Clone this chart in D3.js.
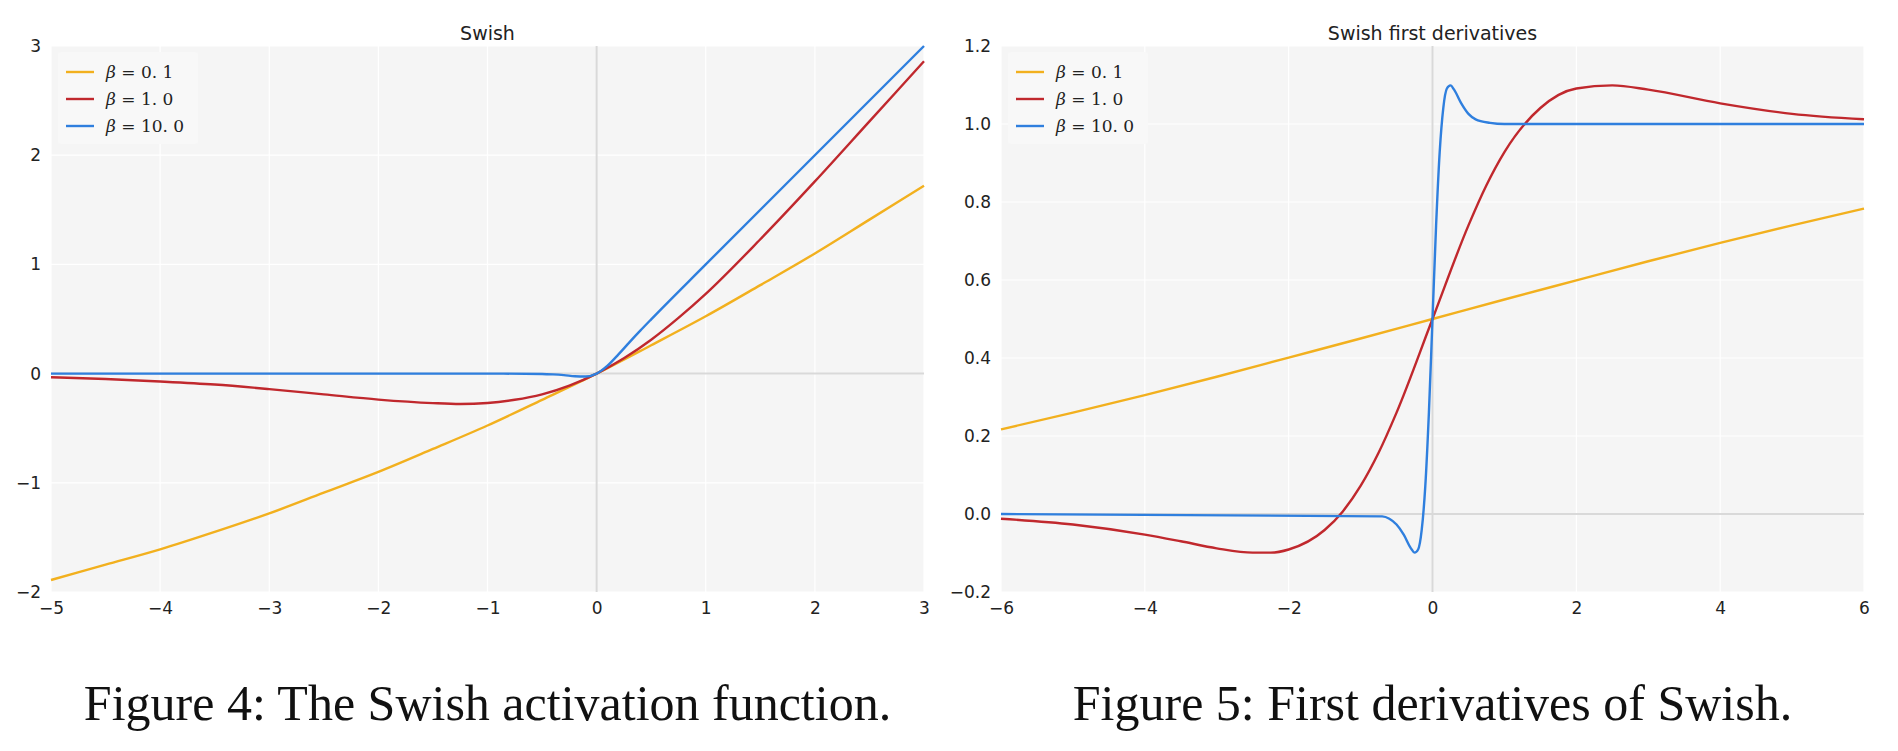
<!DOCTYPE html>
<html><head><meta charset="utf-8">
<script src="https://cdn.jsdelivr.net/npm/d3@7"></script>
<style>
  body { margin: 0; background: #fff; }
  svg { display: block; }
  .tick text { font-family: "DejaVu Sans", sans-serif; font-size: 17px; fill: #222; }
</style></head>
<body>
<svg id="chart" width="1898" height="751"></svg>
<script>
// Swish values
const swishX01 = [-5, -4.5, -4, -3.5, -3, -2.5, -2, -1.5, -1, -0.5, 0, 0.5, 1, 1.5, 2, 2.5, 3];
const swishY01 = [-1.89, -1.75, -1.61, -1.45, -1.28, -1.09, -0.90, -0.69, -0.475, -0.24, 0, 0.26, 0.525, 0.81, 1.10, 1.41, 1.72];
const swishX1 = [-5, -4.5, -4, -3.5, -3, -2.5, -2, -1.5, -1.25, -1, -0.75, -0.5, -0.25, 0, 0.25, 0.5, 0.75, 1, 1.5, 2, 2.5, 3];
const swishY1 = [-0.033, -0.05, -0.072, -0.10, -0.142, -0.19, -0.238, -0.27, -0.278, -0.269, -0.24, -0.19, -0.11, 0, 0.14, 0.31, 0.51, 0.73, 1.23, 1.76, 2.31, 2.86];
const swishX10 = [-5, -1, -0.5, -0.4, -0.3, -0.2, -0.1, 0, 0.1, 0.2, 0.3, 0.4, 0.5, 1, 3];
const swishY10 = [0, 0, -0.003, -0.007, -0.014, -0.024, -0.027, 0, 0.073, 0.176, 0.286, 0.393, 0.497, 1, 3];

// first derivatives, right panel
const derivX01 = [-6, -5, -4, -3, -2, -1, 0, 1, 2, 3, 4, 5, 6];
const derivY01 = [0.217, 0.260, 0.305, 0.352, 0.401, 0.450, 0.5, 0.550, 0.599, 0.648, 0.695, 0.740, 0.783];
const derivX1 = [-6, -5, -4, -3.5, -3, -2.5, -2.25, -2, -1.5, -1.25, -1, -0.75, -0.5, 0, 0.5, 0.75, 1, 1.5, 2, 2.5, 3, 4, 5, 6];
const derivY1 = [-0.012, -0.027, -0.053, -0.070, -0.088, -0.099, -0.099, -0.091, -0.041, 0.006, 0.072, 0.157, 0.26, 0.5, 0.74, 0.843, 0.928, 1.041, 1.091, 1.099, 1.088, 1.053, 1.026, 1.012];
const derivX10 = [-6, -0.7, -0.6, -0.5, -0.4, -0.3, -0.25, -0.2, -0.15, -0.1, -0.05, 0, 0.05, 0.1, 0.15, 0.2, 0.25, 0.3, 0.4, 0.5, 0.6, 0.8, 1, 6];
const derivY10 = [0, -0.006, -0.012, -0.027, -0.053, -0.088, -0.099, -0.091, -0.041, 0.072, 0.26, 0.5, 0.74, 0.928, 1.041, 1.091, 1.099, 1.088, 1.053, 1.026, 1.012, 1.003, 1.0, 1.0];

const betaLabels = ['0.1', '1.0', '10.0'];
const colors = ['#f2b01e', '#c0282d', '#2f7fde'];

const svg = d3.select('#chart');
const zip = (xs, ys) => xs.map((x, i) => ({ x, y: ys[i] }));

function panel(opt) {
  const x = d3.scaleLinear().domain(opt.xDomain).range([opt.left, opt.right]);
  const y = d3.scaleLinear().domain(opt.yDomain).range([592, 46]);
  const g = svg.append('g');
  g.append('rect').attr('x', opt.left).attr('y', 46)
    .attr('width', opt.right - opt.left).attr('height', 546).attr('fill', '#f5f5f5');
  // grid
  g.selectAll('line.gx').data(x.ticks(opt.xTicks)).enter().append('line')
    .attr('x1', (d) => x(d)).attr('x2', (d) => x(d)).attr('y1', 46).attr('y2', 592)
    .attr('stroke', '#fff').attr('stroke-width', 1.2);
  g.selectAll('line.gy').data(opt.yTickVals).enter().append('line')
    .attr('x1', opt.left).attr('x2', opt.right).attr('y1', (d) => y(d)).attr('y2', (d) => y(d))
    .attr('stroke', '#fff').attr('stroke-width', 1.2);
  // zero lines
  g.append('line').attr('x1', x(0)).attr('x2', x(0)).attr('y1', 46).attr('y2', 592)
    .attr('stroke', '#d9d9d9').attr('stroke-width', 2);
  g.append('line').attr('x1', opt.left).attr('x2', opt.right).attr('y1', y(0)).attr('y2', y(0))
    .attr('stroke', '#d9d9d9').attr('stroke-width', 2);
  // axes
  const fmtMinus = (f) => (d) => f(d).replace('-', '\u2212');
  const ax = g.append('g').attr('transform', 'translate(0,592)')
    .call(d3.axisBottom(x).ticks(opt.xTicks).tickSize(0).tickPadding(10).tickFormat(fmtMinus(d3.format('d'))));
  ax.select('.domain').remove();
  const ay = g.append('g').attr('transform', `translate(${opt.left},0)`)
    .call(d3.axisLeft(y).tickValues(opt.yTickVals).tickSize(0).tickPadding(10).tickFormat(fmtMinus(opt.yFormat)));
  ay.select('.domain').remove();
  // title
  g.append('text').attr('x', (opt.left + opt.right) / 2).attr('y', 40).attr('text-anchor', 'middle')
    .attr('font-family', 'DejaVu Sans, sans-serif').attr('font-size', 19).attr('fill', '#222').text(opt.title);
  // curves
  const line = d3.line().x((d) => x(d.x)).y((d) => y(d.y)).curve(d3.curveMonotoneX);
  opt.series.forEach((s, i) => {
    g.append('path').datum(s).attr('fill', 'none').attr('stroke', colors[i])
      .attr('stroke-width', 2.4).attr('d', line);
  });
  // legend
  const lg = g.append('g').attr('transform', `translate(${opt.left + 7},52)`);
  lg.append('rect').attr('width', 140).attr('height', 92).attr('fill', '#f8f8f8').attr('rx', 3);
  betaLabels.forEach((b, i) => {
    const yy = 20 + i * 27;
    lg.append('line').attr('x1', 8).attr('x2', 36).attr('y1', yy).attr('y2', yy)
      .attr('stroke', colors[i]).attr('stroke-width', 2.4);
    const t = lg.append('text').attr('x', 48).attr('y', yy + 6)
      .attr('font-family', 'DejaVu Serif, serif').attr('font-size', 17).attr('fill', '#222');
    t.append('tspan').attr('font-style', 'italic').text('\u03b2');
    t.append('tspan').text(' = ' + b.replace('.', '. '));
  });
  // caption
  svg.append('text').attr('x', (opt.left + opt.right) / 2).attr('y', 720).attr('text-anchor', 'middle')
    .attr('font-family', 'Liberation Serif, Times New Roman, serif').attr('font-size', 50).attr('fill', '#111')
    .text(opt.caption);
}

panel({
  left: 51, right: 924, xDomain: [-5, 3], yDomain: [-2, 3], xTicks: 8,
  yTickVals: [-2, -1, 0, 1, 2, 3], yFormat: d3.format('d'), title: 'Swish',
  series: [zip(swishX01, swishY01), zip(swishX1, swishY1), zip(swishX10, swishY10)],
  caption: 'Figure 4: The Swish activation function.'
});
panel({
  left: 1001, right: 1864, xDomain: [-6, 6], yDomain: [-0.2, 1.2], xTicks: 6,
  yTickVals: [-0.2, 0, 0.2, 0.4, 0.6, 0.8, 1.0, 1.2], yFormat: d3.format('.1f'), title: 'Swish first derivatives',
  series: [zip(derivX01, derivY01), zip(derivX1, derivY1), zip(derivX10, derivY10)],
  caption: 'Figure 5: First derivatives of Swish.'
});
</script>
</body></html>
